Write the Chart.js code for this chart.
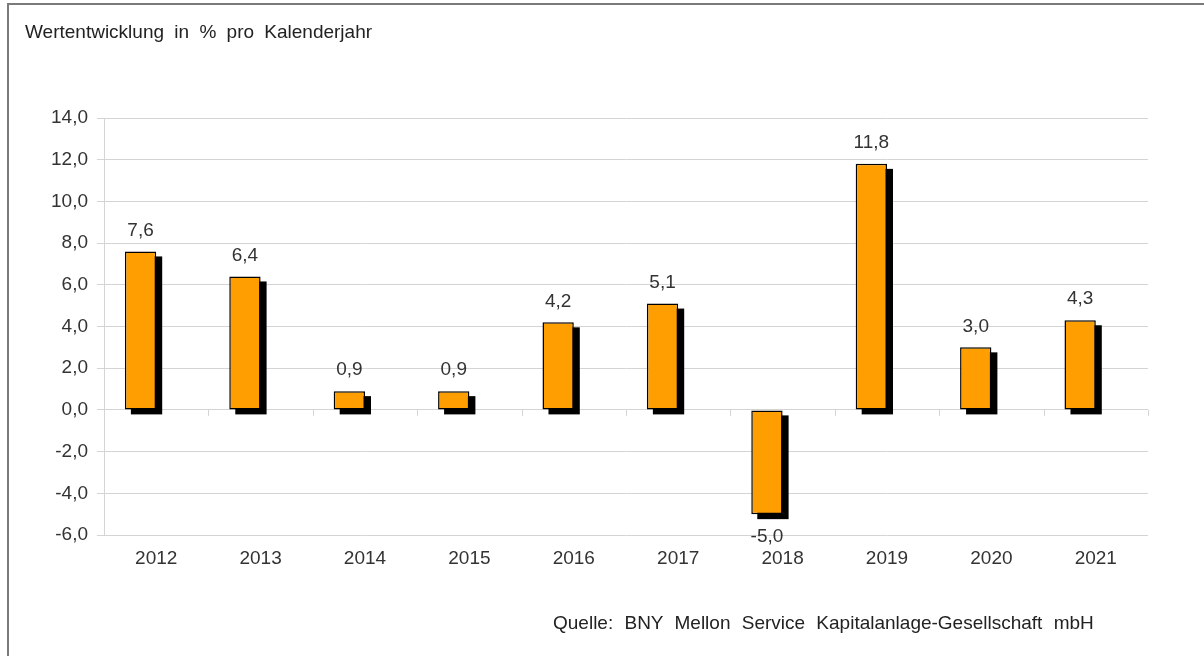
<!DOCTYPE html>
<html>
<head>
<meta charset="utf-8">
<script src="https://cdn.jsdelivr.net/npm/chart.js@4/dist/chart.umd.min.js"></script>
<style>
  html, body { margin: 0; padding: 0; background: #fff; }
  #wrap { position: relative; width: 1204px; height: 656px; overflow: hidden; font-family: "Liberation Sans", Arial, sans-serif; }
  #frame { position: absolute; left: 7px; top: 3px; right: 0; bottom: 0; border-top: 2px solid #7a7a7a; border-left: 2px solid #7a7a7a; }
  #title { position: absolute; left: 25px; top: 21px; font-size: 19px; color: #222; word-spacing: 5px; }
  #source { position: absolute; left: 553px; top: 612px; font-size: 19px; color: #222; word-spacing: 6px; }
  #chart { position: absolute; left: 0; top: 0; }
</style>
</head>
<body>
<div id="wrap">
  <div id="frame"></div>
  <canvas id="chart" width="1204" height="656"></canvas>
  <div id="title">Wertentwicklung in % pro Kalenderjahr</div>
  <div id="source">Quelle: BNY Mellon Service Kapitalanlage-Gesellschaft mbH</div>
</div>
<script>
// Wertentwicklung pro Kalenderjahr (%)
let years = ["2012", "2013", "2014", "2015", "2016", "2017", "2018", "2019", "2020", "2021"];
let returns = [7.6, 6.4, 0.9, 0.9, 4.2, 5.1, -5.0, 11.8, 3.0, 4.3];
let yMin = -6;
let yMax = 14;
let yStep = 2;

let gridColor = "#d4d4d4";
let textColor = "#333";
let fontFamily = '"Liberation Sans", Arial, sans-serif';

function fmt(v) {
  return v.toFixed(1).replace(".", ","); // German decimal comma
}

// black drop shadow behind every bar, small ticks on the zero line, value labels
let shadowPlugin = {
  id: "barShadow",
  beforeDatasetDraw(chart, args) {
    if (args.index !== 0) return;
    let ctx = chart.ctx;
    let meta = chart.getDatasetMeta(0);
    ctx.save();
    ctx.fillStyle = "#000";
    meta.data.forEach(function (bar) {
      let p = bar.getProps(["x", "y", "base", "width"], true);
      let top = Math.min(p.y, p.base);
      let h = Math.abs(p.base - p.y);
      ctx.fillRect(p.x - p.width / 2 + 6, top + 5, p.width, h);
    });
    ctx.restore();
  },
  beforeDatasetsDraw(chart) {
    let ctx = chart.ctx;
    let x = chart.scales.x;
    let y0 = chart.scales.y.getPixelForValue(0);
    ctx.save();
    ctx.strokeStyle = gridColor;
    ctx.lineWidth = 1;
    for (let i = 1; i <= years.length; i++) {
      let px = i < years.length ? (x.getPixelForTick(i - 1) + x.getPixelForTick(i)) / 2 : x.right;
      px = Math.round(px);
      ctx.beginPath();
      ctx.moveTo(px + 0.5, y0);
      ctx.lineTo(px + 0.5, y0 + 6);
      ctx.stroke();
    }
    ctx.restore();
  },
  afterDatasetsDraw(chart) {
    let ctx = chart.ctx;
    let meta = chart.getDatasetMeta(0);
    ctx.save();
    ctx.fillStyle = textColor;
    ctx.font = "19px " + fontFamily;
    ctx.textAlign = "center";
    ctx.textBaseline = "middle";
    meta.data.forEach(function (bar, i) {
      let p = bar.getProps(["x", "y"], true);
      let v = returns[i];
      let ty = v >= 0 ? p.y - 21 : p.y + 23;
      ctx.fillText(fmt(v), p.x, ty);
    });
    ctx.restore();
  }
};

let ctx = document.getElementById("chart").getContext("2d");

new Chart(ctx, {
  type: "bar",
  data: {
    labels: years,
    datasets: [
      {
        data: returns,
        backgroundColor: "#ff9e00",
        borderColor: "#000",
        borderWidth: 1.5,
        borderSkipped: false,
        barPercentage: 1,
        categoryPercentage: 0.6
      },
      {
        // empty second slot pushes the bars left of the year label
        data: years.map(() => null),
        barPercentage: 1,
        categoryPercentage: 0.6
      }
    ]
  },
  options: {
    responsive: false,
    animation: false,
    events: [],
    layout: { padding: { top: 118, right: 56, bottom: 81, left: 0 } },
    plugins: {
      legend: { display: false },
      tooltip: { enabled: false },
      title: { display: false }
    },
    scales: {
      x: {
        grid: { display: false, drawTicks: false },
        border: { display: false },
        ticks: {
          color: textColor,
          padding: 12,
          font: { family: fontFamily, size: 19 }
        },
        afterFit(scale) { scale.height = 40; }
      },
      y: {
        min: yMin,
        max: yMax,
        ticks: {
          stepSize: yStep,
          color: textColor,
          padding: 9,
          font: { family: fontFamily, size: 19 },
          callback: function (v) { return fmt(v); }
        },
        grid: { color: gridColor, lineWidth: 1, tickLength: 7 },
        border: { color: gridColor, width: 1 },
        afterFit(scale) { scale.width = 104; }
      }
    }
  },
  plugins: [shadowPlugin]
});
</script>
</body>
</html>
